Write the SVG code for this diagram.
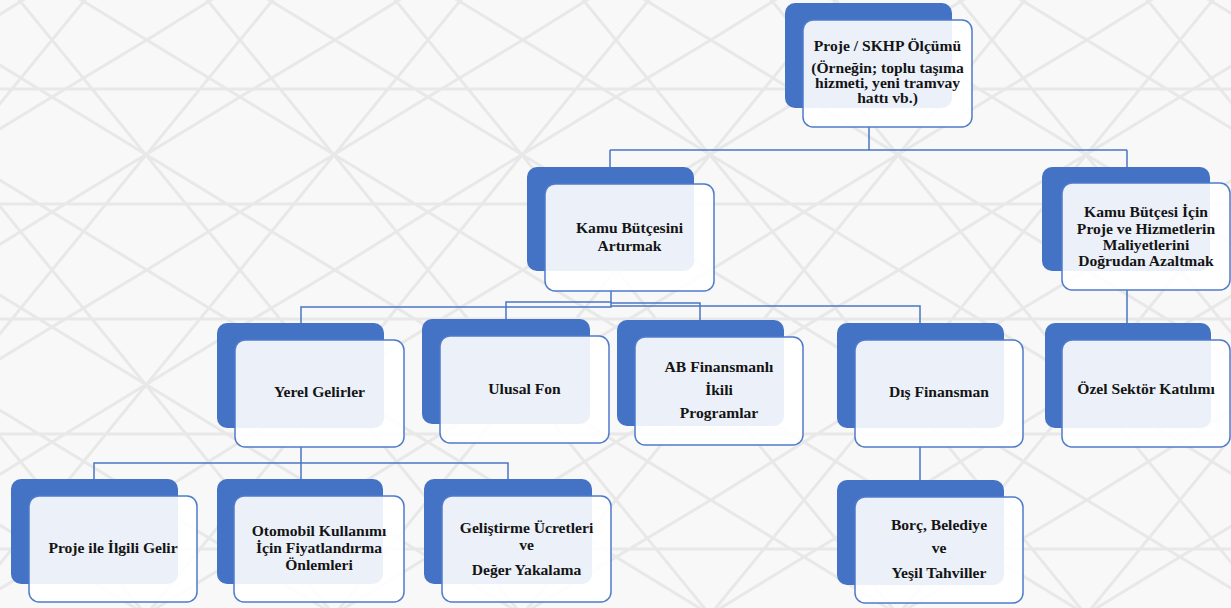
<svg xmlns="http://www.w3.org/2000/svg" width="1231" height="608" viewBox="0 0 1231 608">
<style>
.back{fill:#4472c4}
.front{fill:#ffffff;fill-opacity:0.9;stroke:#4f7bca;stroke-width:1.5}
.t{font-family:"Liberation Serif","Times New Roman",serif;font-weight:bold;font-size:15.6px;fill:#141414;text-anchor:middle}
.c{fill:none;stroke:#4a75c2;stroke-width:1.5}
.bg{fill:none;stroke:#e8e8e8;stroke-width:3}
</style>
<defs>
<pattern id="lattice" width="188" height="230" patternUnits="userSpaceOnUse" patternTransform="translate(52,40)">
<rect width="188" height="230" fill="#f8f8f8"/>
<path class="bg" d="M0,0 L188,230 M188,0 L0,230 M0,57 L188,172 M0,172 L94.8,230 M94.8,0 L188,57 M0,172 L188,57 M0,57 L94.8,0 M94.8,230 L188,172 M0,49 H188 M0,164 H188"/>
</pattern>
</defs>
<rect width="1231" height="608" fill="url(#lattice)"/>

<g id="connectors">
<path class="c" d="M869,127 V150 M610,150 H1127 M610,150 V167 M1127,150 V167"/>
<path class="c" d="M611,291 V307 H301 V323 M611,302 H506 V319 M611,303 H700 V320 M611,306 H920 V323"/>
<path class="c" d="M1127,290 V323"/>
<path class="c" d="M301,447 V463 H94 V479 M301,463 H508 V479 M301,463 V479"/>
<path class="c" d="M920,447 V480"/>
</g>

<g id="node-top">
<rect class="back" x="785" y="3" width="167" height="105" rx="10"/>
<rect class="front" x="803" y="20" width="169" height="107" rx="10"/>
<text class="t" x="887.5" y="51">Proje / SKHP Ölçümü</text>
<text class="t" x="887.5" y="73">(Örneğin; toplu taşıma</text>
<text class="t" x="887.5" y="88">hizmeti, yeni tramvay</text>
<text class="t" x="887.5" y="103">hattı vb.)</text>
</g>

<g id="node-kamu-artirmak">
<rect class="back" x="527" y="167" width="167" height="104" rx="10"/>
<rect class="front" x="545" y="184" width="169" height="107" rx="10"/>
<text class="t" x="629.5" y="233">Kamu Bütçesini</text>
<text class="t" x="629.5" y="251">Artırmak</text>
</g>

<g id="node-kamu-azaltmak">
<rect class="back" x="1042" y="167" width="168" height="104" rx="10"/>
<rect class="front" x="1062" y="183" width="168" height="107" rx="10"/>
<text class="t" x="1146" y="217">Kamu Bütçesi İçin</text>
<text class="t" x="1146" y="233.5">Proje ve Hizmetlerin</text>
<text class="t" x="1146" y="250">Maliyetlerini</text>
<text class="t" x="1146" y="266">Doğrudan Azaltmak</text>
</g>

<g id="node-yerel">
<rect class="back" x="217" y="323" width="167" height="105" rx="10"/>
<rect class="front" x="235" y="340" width="169" height="107" rx="10"/>
<text class="t" x="319.5" y="397">Yerel Gelirler</text>
</g>

<g id="node-ulusal">
<rect class="back" x="422" y="319" width="168" height="105" rx="10"/>
<rect class="front" x="440" y="336" width="169" height="107" rx="10"/>
<text class="t" x="524.5" y="394">Ulusal Fon</text>
</g>

<g id="node-ab">
<rect class="back" x="617" y="320" width="167" height="106" rx="10"/>
<rect class="front" x="635" y="337" width="168" height="108" rx="10"/>
<text class="t" x="719" y="372">AB Finansmanlı</text>
<text class="t" x="719" y="395">İkili</text>
<text class="t" x="719" y="418">Programlar</text>
</g>

<g id="node-dis">
<rect class="back" x="837" y="323" width="167" height="105" rx="10"/>
<rect class="front" x="855" y="340" width="168" height="107" rx="10"/>
<text class="t" x="939" y="397">Dış Finansman</text>
</g>

<g id="node-ozel">
<rect class="back" x="1045" y="323" width="166" height="105" rx="10"/>
<rect class="front" x="1062" y="340" width="168" height="107" rx="10"/>
<text class="t" x="1146" y="394">Özel Sektör Katılımı</text>
</g>

<g id="node-proje-gelir">
<rect class="back" x="11" y="479" width="167" height="105" rx="10"/>
<rect class="front" x="29" y="496" width="168" height="106" rx="10"/>
<text class="t" x="113" y="553">Proje ile İlgili Gelir</text>
</g>

<g id="node-otomobil">
<rect class="back" x="217" y="479" width="166" height="105" rx="10"/>
<rect class="front" x="234" y="496" width="170" height="106" rx="10"/>
<text class="t" x="319" y="536">Otomobil Kullanımı</text>
<text class="t" x="319" y="553">İçin Fiyatlandırma</text>
<text class="t" x="319" y="570">Önlemleri</text>
</g>

<g id="node-gelistirme">
<rect class="back" x="424" y="479" width="168" height="105" rx="10"/>
<rect class="front" x="442" y="496" width="169" height="106" rx="10"/>
<text class="t" x="526.5" y="533">Geliştirme Ücretleri</text>
<text class="t" x="526.5" y="550">ve</text>
<text class="t" x="526.5" y="575">Değer Yakalama</text>
</g>

<g id="node-borc">
<rect class="back" x="837" y="480" width="167" height="105" rx="10"/>
<rect class="front" x="855" y="497" width="168" height="106" rx="10"/>
<text class="t" x="939" y="530">Borç, Belediye</text>
<text class="t" x="939" y="553">ve</text>
<text class="t" x="939" y="578">Yeşil Tahviller</text>
</g>
</svg>
